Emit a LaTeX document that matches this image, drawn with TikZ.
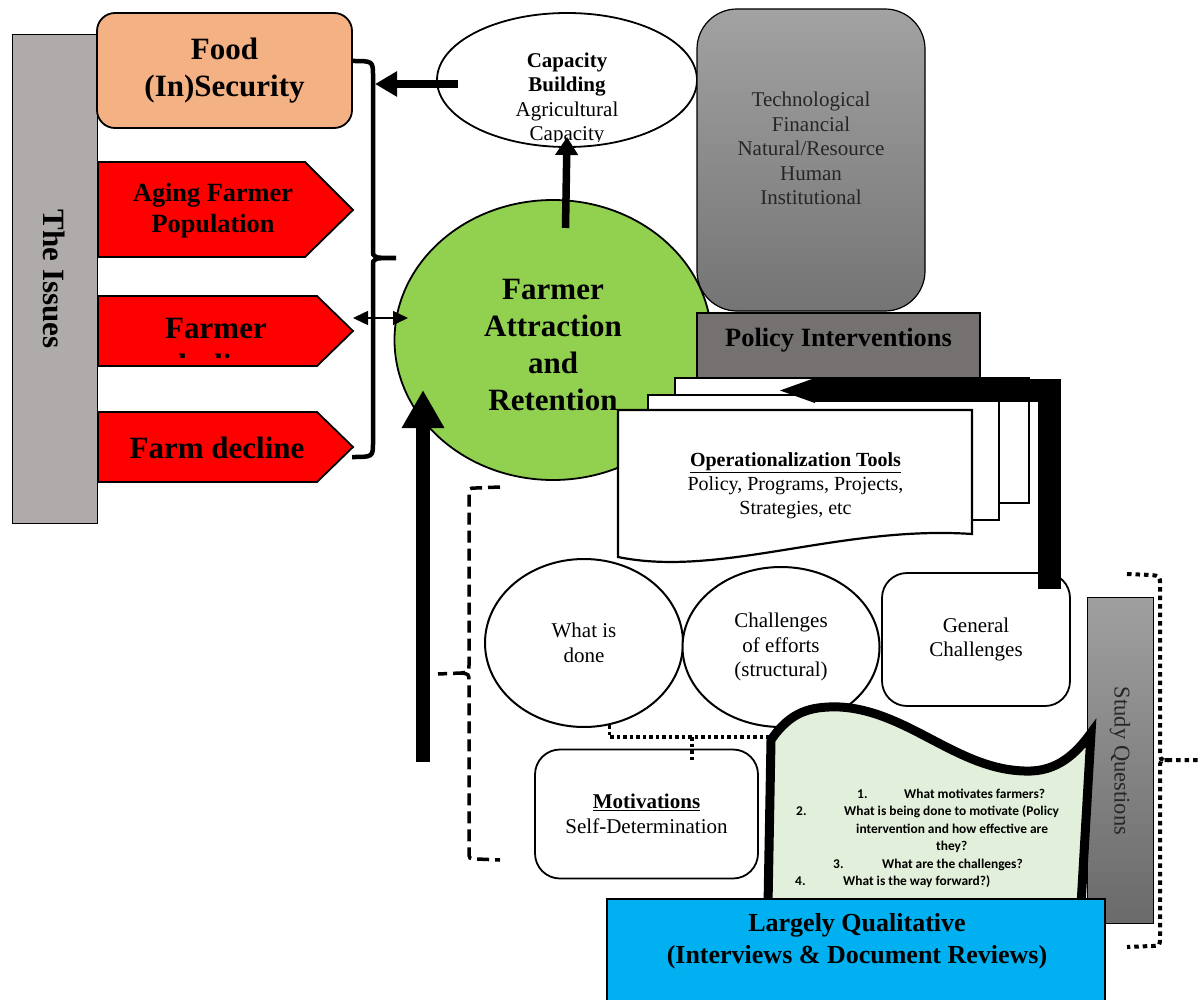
\documentclass[tikz,border=0pt]{standalone}
\usepackage{fontspec}
\setmainfont{Liberation Serif}
\newfontfamily\qfont{Carlito}
\usetikzlibrary{shapes.geometric,arrows.meta}
\definecolor{foodc}{HTML}{F4B183}
\definecolor{redc}{HTML}{FF0000}
\definecolor{greenc}{HTML}{92D050}
\definecolor{issuec}{HTML}{AFABAB}
\definecolor{policyc}{HTML}{767171}
\definecolor{docc}{HTML}{E2EFDA}
\definecolor{bluec}{HTML}{00B0F0}
\definecolor{gtop}{HTML}{A2A2A2}
\definecolor{gbot}{HTML}{747474}
\definecolor{sqtop}{HTML}{A0A0A0}
\definecolor{sqbot}{HTML}{6A6A6A}
\newcommand\fsz[2]{\fontsize{#1}{#2}\selectfont}
\begin{document}
\begin{tikzpicture}[x=1pt,y=-1pt,
  box/.style={draw, line width=1.8pt},
  issuearrow/.style={draw, fill=redc, line width=1.8pt},
  page/.style={draw, fill=white, line width=2.2pt},
  dotline/.style={line width=3.2pt, dash pattern=on 3.5pt off 3pt},
  dashline/.style={line width=3.5pt, dash pattern=on 12pt off 6pt},
  sqdot/.style={line width=4pt, dash pattern=on 4.5pt off 4pt},
  reg/.style={font=\fsz{21}{24.5}, align=center},
  qtxt/.style={font=\qfont\bfseries\fsz{13.4}{17}, anchor=base west, inner sep=0pt}
]
\useasboundingbox (0,0) rectangle (1198,1000);

% The Issues bar
\node[draw, line width=1pt, fill=issuec, minimum width=85pt, minimum height=488pt, inner sep=0pt] (issues) at (54.5,279) {};
\node[rotate=-90, font=\bfseries\fsz{31}{36}] (issuestxt) at (issues.center) {The Issues};

% Food (In)Security
\node[box, fill=foodc, rounded corners=18pt, minimum width=255pt, minimum height=115pt, align=center, font=\bfseries\fsz{31}{37}] (food) at (224.5,70.5) {Food\\(In)Security};

% red issue arrows
\draw[issuearrow] (98,162) -- (305,162) -- (353,210) -- (305,257) -- (98,257) -- cycle;
\node[align=center, font=\bfseries\fsz{26.3}{31}] (aging) at (213,211) {Aging Farmer\\Population};
\draw[issuearrow] (98,296) -- (317,296) -- (353,331) -- (317,366) -- (98,366) -- cycle;
\begin{scope}
\clip (98,296) rectangle (352,357);
\node[align=center, font=\bfseries\fsz{31}{37}] (farmerx) at (216,347) {Farmer\\decline};
\end{scope}
\draw[issuearrow] (98,412) -- (317,412) -- (353,447) -- (317,482) -- (98,482) -- cycle;
\node[font=\bfseries\fsz{31}{37}] (farmdec) at (217,448) {Farm decline};

% brace
\draw[line width=4.5pt] (352,61) .. controls (373,61) .. (373,76) -- (373,250) .. controls (373,258) .. (396,258)
  .. controls (373,258) .. (373,266) -- (373,442) .. controls (373,457) .. (352,457);

% Farmer attraction circle
\node[ellipse, box, fill=greenc, minimum width=317pt, minimum height=280pt, inner sep=0pt] (farmer) at (553,340) {};
\node[align=center, font=\bfseries\fsz{31}{36.7}] (farmertxt) at (553,345) {Farmer\\Attraction\\and\\Retention};

% double arrow
\coordinate (dl) at (353,318);
\coordinate (dr) at (408,318);
\draw[line width=1.5pt, {Triangle[length=15pt,width=14pt]}-{Triangle[length=15pt,width=14pt]}] (dl) -- (dr);

% Capacity building ellipse
\node[ellipse, box, fill=white, minimum width=260pt, minimum height=134pt, inner sep=0pt] (cap) at (567,80) {};
\begin{scope}
\clip (437,13) rectangle (697,142);
\node[reg] (captxt) at (567,99) {\textbf{Capacity}\\\textbf{Building}\\Agricultural\\Capacity};
\end{scope}
\coordinate (capstart) at (458,84);
\coordinate (bracecap) at (375,84);
\draw[line width=8pt, -{Triangle[length=22pt,width=24pt]}] (capstart) -- (bracecap);
\coordinate (upstart) at (565.5,228);
\draw[line width=7.5pt, -{Triangle[length=18pt,width=22pt]}] (upstart) -- (cap.south |- 0,137);

% Factors gray box
\node[draw, line width=1.2pt, rounded corners=40pt, top color=gtop, bottom color=gbot, minimum width=228pt, minimum height=302pt, reg] (factors) at (811,160) {};
\node[reg, text=black!85] (factorstxt) at (811,148.5) {Technological\\Financial\\Natural/Resource\\Human\\Institutional};

% Policy Interventions
\node[draw, line width=1.6pt, fill=policyc, minimum width=283pt, minimum height=65pt, inner sep=0pt] (policy) at (838.5,345.5) {};
\node[font=\bfseries\fsz{26.4}{30}] (policytxt) at (838.5,340) {Policy Interventions};

% pages
\draw[page] (675,378) rectangle (1029,503);
\draw[page] (648,395) rectangle (999,520);
\draw[page] (618,410) -- (972,410) -- (972,534) .. controls (840,525) and (720,578) .. (618,557) -- cycle;
\node[reg, font=\fsz{20}{24}] (tools) at (795.5,486) {\textbf{\underline{Operationalization Tools}}\\Policy, Programs, Projects,\\Strategies, etc};

% ellipses
\node[ellipse, draw, line width=2pt, fill=white, minimum width=198pt, minimum height=168pt, inner sep=0pt, reg] (wid) at (584,643) {What is\\done};
\node[ellipse, draw, line width=2pt, fill=white, minimum width=197pt, minimum height=160pt, inner sep=0pt, reg] (chal) at (781,647) {Challenges\\of efforts\\(structural)};

% General challenges
\node[box, fill=white, rounded corners=25pt, minimum width=188pt, minimum height=133pt, reg] (gen) at (976,639.5) {General\\Challenges};

% thick elbow arrow
\coordinate (elbowstart) at (1049.5,589);
\coordinate (elbowend) at (765,390.5);
\draw[line width=23pt, -{Triangle[length=50pt,width=19pt]}] (elbowstart) |- (elbowend);

% dashed left bracket
\draw[dashline] (500,487) -- (476,488) .. controls (469,488) .. (469,496) -- (469,664) .. controls (469,672) .. (461,673) -- (438,674);
\draw[dashline] (461,673) .. controls (469,674) .. (469,682) -- (469,851) .. controls (469,859) .. (477,859) -- (500,860);

% big up arrow
\coordinate (bigstart) at (423,762);
\coordinate (bigend) at (423,390);
\draw[line width=14pt, -{Triangle[length=38pt,width=40pt]}] (bigstart) -- (bigend);

% Motivations
\node[box, fill=white, rounded corners=25pt, minimum width=223pt, minimum height=129pt, reg] (mot) at (646.5,814) {\textbf{\underline{Motivations}}\\Self-Determination};

% dotted connectors
\coordinate (dotjoin) at (692,737);
\coordinate (docleft) at (770,737);
\draw[dotline] (wid.287) |- (docleft);
\draw[dotline] (dotjoin) -- ([yshift=-11pt]dotjoin |- mot.north);
\draw[dotline] (chal.267) -- (chal.267 |- dotjoin);

% Study questions bar
\node[draw, line width=1pt, top color=sqtop, bottom color=sqbot, minimum width=66pt, minimum height=326pt, inner sep=0pt] (sq) at (1120,760) {};
\node[rotate=-90, font=\fsz{22.5}{26}, text=black!85] (sqtxt) at (1120,761) {Study Questions};

% right dotted bracket
\draw[sqdot] (1127,574) -- (1151,575) .. controls (1160,576) .. (1160,585) -- (1160,751) .. controls (1160,760) .. (1169,760) -- (1200,760);
\draw[sqdot] (1169,760) .. controls (1160,760) .. (1160,769) -- (1160,937) .. controls (1160,946) .. (1151,946) -- (1127,947);

% study doc
\draw[line width=9pt, fill=docc, line join=miter] (768,905) -- (771,740) .. controls (790,712) and (810,706) .. (840,707)
  .. controls (910,711) and (960,773) .. (1031,771) .. controls (1062,770) and (1080,748) .. (1091,733) -- (1081,905) -- cycle;
\node[qtxt] (q1n) at (857,798) {1.};
\node[qtxt] (q1t) at (904,798) {What motivates farmers?};
\node[qtxt] (q2n) at (796,815) {2.};
\node[qtxt] (q2t) at (844,815) {What is being done to motivate (Policy};
\node[qtxt] (q2b) at (856,833) {intervention and how effective are};
\node[qtxt] (q2c) at (936,850) {they?};
\node[qtxt] (q3n) at (833,868) {3.};
\node[qtxt] (q3t) at (882,868) {What are the challenges?};
\node[qtxt] (q4n) at (795,885) {4.};
\node[qtxt] (q4t) at (843,885) {What is the way forward?)};

% blue box
\node[box, fill=bluec, minimum width=498pt, minimum height=115pt, anchor=north west, inner sep=0pt] (qual) at (606,898) {};
\node[align=center, font=\bfseries\fsz{26}{32}] (qualtxt) at (857,941) {Largely Qualitative\\(Interviews \& Document Reviews)};
\end{tikzpicture}
\end{document}
